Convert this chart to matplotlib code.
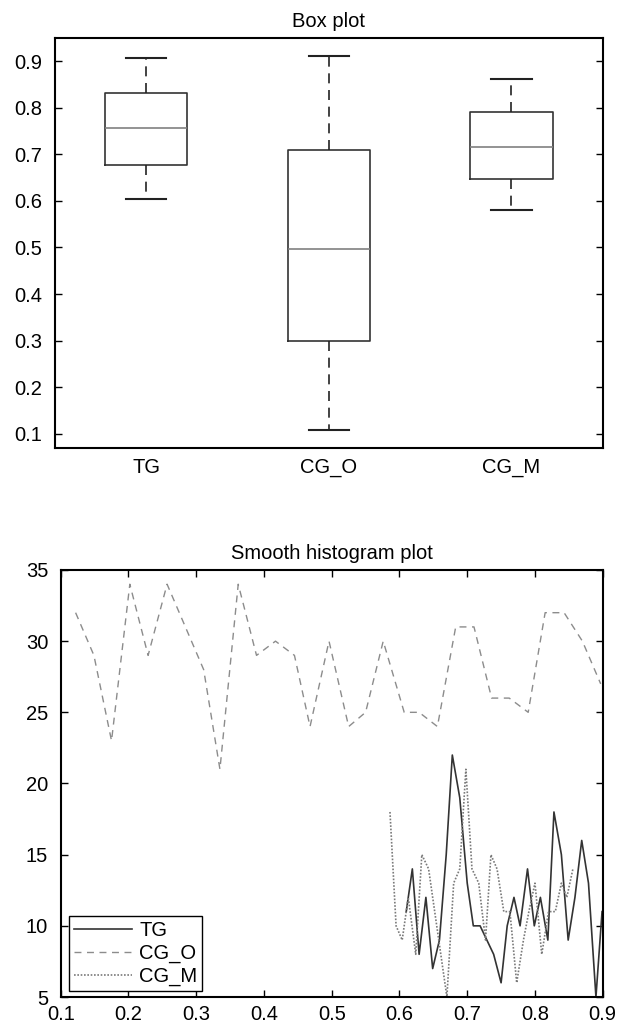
import matplotlib.pyplot as plt

# box plot summary values (whisker low, Q1, median, Q3, whisker high)
groups = ['TG', 'CG_O', 'CG_M']
whis_lo = [0.605, 0.109, 0.580]
q1 = [0.678, 0.299, 0.648]
med = [0.757, 0.497, 0.716]
q3 = [0.832, 0.710, 0.791]
whis_hi = [0.906, 0.911, 0.861]

# smooth histogram curves
tg_x = [0.610, 0.619, 0.629, 0.639, 0.649, 0.659, 0.669, 0.678, 0.689, 0.700,
        0.709, 0.719, 0.729, 0.739, 0.750, 0.759, 0.769, 0.778, 0.789, 0.799,
        0.808, 0.819, 0.828, 0.839, 0.849, 0.859, 0.869, 0.879, 0.890, 0.899]
tg_y = [11, 14, 8, 12, 7, 9, 15, 22, 19, 13,
        10, 10, 9, 8, 6, 10, 12, 10, 14, 10,
        12, 9, 18, 15, 9, 12, 16, 13, 5, 11]

cgo_x = [0.122, 0.149, 0.175, 0.202, 0.229, 0.257, 0.284, 0.311, 0.335, 0.362,
         0.389, 0.417, 0.445, 0.468, 0.496, 0.525, 0.550, 0.576, 0.607, 0.629,
         0.656, 0.683, 0.710, 0.736, 0.762, 0.790, 0.815, 0.843, 0.870, 0.897]
cgo_y = [32, 29, 23, 34, 29, 34, 31, 28, 21, 34,
         29, 30, 29, 24, 30, 24, 25, 30, 25, 25,
         24, 31, 31, 26, 26, 25, 32, 32, 30, 27]

cgm_x = [0.586, 0.595, 0.604, 0.613, 0.624, 0.633, 0.643, 0.652, 0.661, 0.670,
         0.680, 0.689, 0.698, 0.707, 0.717, 0.727, 0.735, 0.744, 0.754, 0.763,
         0.773, 0.783, 0.791, 0.800, 0.810, 0.820, 0.830, 0.839, 0.847, 0.856]
cgm_y = [18, 10, 9, 12, 8, 15, 14, 11, 8, 5,
         13, 14, 21, 14, 13, 9, 15, 14, 11, 11,
         6, 9, 11, 13, 8, 11, 11, 13, 12, 14]

plt.rcParams['font.family'] = ['Liberation Sans', 'DejaVu Sans']
plt.rcParams['font.size'] = 14.5

fig = plt.figure(figsize=(6.24, 10.27), dpi=100)

#### box plot
ax1 = fig.add_axes([0.0881, 0.5635, 0.8778, 0.3992])
stats = []
for i in range(len(groups)):
    stats.append({'label': groups[i], 'whislo': whis_lo[i], 'q1': q1[i],
                  'med': med[i], 'q3': q3[i], 'whishi': whis_hi[i], 'fliers': []})
ax1.bxp(stats, positions=[1, 2, 3], widths=0.45, capwidths=0.22,
        boxprops=dict(color='#333333', linewidth=1.2),
        medianprops=dict(color='#808080', linewidth=1.2),
        whiskerprops=dict(color='#222222', linewidth=1.2, linestyle=(0, (6, 4))),
        capprops=dict(color='#222222', linewidth=1.5))
ax1.set_xlim(0.5, 3.5)
ax1.set_ylim(0.069, 0.949)
ax1.set_yticks([0.1, 0.2, 0.3, 0.4, 0.5, 0.6, 0.7, 0.8, 0.9])
ax1.tick_params(axis='y', direction='in', right=True, length=5, width=1, pad=9)
ax1.tick_params(axis='x', length=0, pad=7)
ax1.set_title('Box plot', fontsize=14.5, pad=8)

#### smooth histogram
ax2 = fig.add_axes([0.0973, 0.0292, 0.8686, 0.4158])
ax2.plot(tg_x, tg_y, color='#333333', linewidth=1.2, label='TG')
ax2.plot(cgo_x, cgo_y, color='#8c8c8c', linewidth=1.0, linestyle=(0, (5, 4)), label='CG_O')
ax2.plot(cgm_x, cgm_y, color='#7a7a7a', linewidth=1.2, linestyle=(0, (1, 1)), label='CG_M')
ax2.set_xlim(0.1, 0.9)
ax2.set_ylim(5, 35)
ax2.set_xticks([0.1, 0.2, 0.3, 0.4, 0.5, 0.6, 0.7, 0.8, 0.9])
ax2.set_yticks([5, 10, 15, 20, 25, 30, 35])
ax2.tick_params(direction='in', top=True, right=True, length=5, width=1)
ax2.tick_params(axis='y', pad=9)
ax2.tick_params(axis='x', pad=6)
ax2.set_title('Smooth histogram plot', fontsize=14.5, pad=8)
leg = ax2.legend(loc='lower left', bbox_to_anchor=(0.015, 0.013), fancybox=False,
                 edgecolor='black', framealpha=1, handlelength=2.9, fontsize=14.5,
                 borderpad=0.25, labelspacing=0.2, handletextpad=0.35, borderaxespad=0)
leg.get_frame().set_linewidth(1.0)

for ax in (ax1, ax2):
    for s in ax.spines.values():
        s.set_linewidth(1.5)

plt.savefig('out.png', dpi=100)
